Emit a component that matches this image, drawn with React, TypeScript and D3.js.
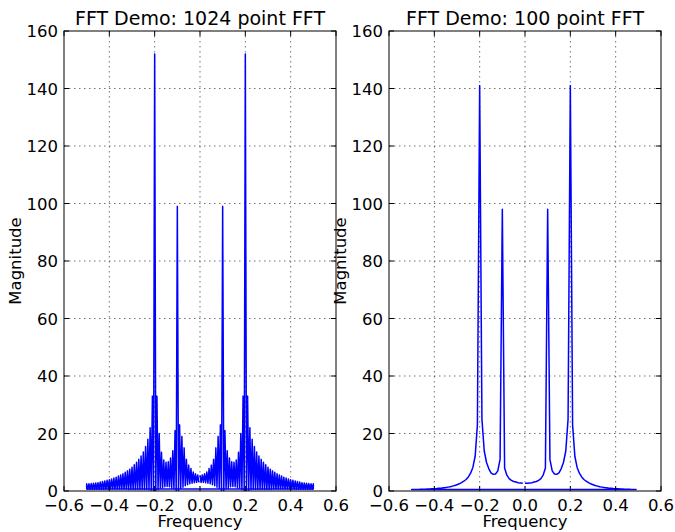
import React from "react";
import * as d3 from "d3";

// ---------- data ----------
const xTicks = [-0.6, -0.4, -0.2, 0.0, 0.2, 0.4, 0.6];
const yTicks = [0, 20, 40, 60, 80, 100, 120, 140, 160];

// 1024-point FFT: sidelobe peak magnitudes on a 0.01 grid from -0.5 to 0.5
const fft1024Peaks = [
  2.5, 2.5, 2.6, 2.7, 2.8, 2.9, 3.1, 3.3, 3.5, 3.7, 3.9, 4.2, 4.5, 4.8, 5.2, 5.6, 6.0, 6.5, 7.0, 7.6,
  8.3, 9.1, 10.0, 11.0, 12.2, 13.6, 15.5, 18, 22, 33, 152, 33, 20, 13.5, 10.8, 10, 10.2, 11.5, 14, 21,
  99, 23, 19, 15, 11, 9, 7.8, 6.6, 6.0, 5.6,
  5.5,
  5.6, 6.0, 6.6, 7.8, 9, 11, 15, 19, 23, 99, 21, 14, 11.5, 10.2, 10, 10.8, 13.5, 20, 33, 152,
  33, 22, 18, 15.5, 13.6, 12.2, 11.0, 10.0, 9.1, 8.3, 7.6, 7.0, 6.5, 6.0, 5.6, 5.2, 4.8, 4.5, 4.2,
  3.9, 3.7, 3.5, 3.3, 3.1, 2.9, 2.8, 2.7, 2.6, 2.5, 2.5,
];
// troughs: edge at -0.5, the 100 dips between neighbouring peaks, edge at +0.5
const fft1024Dips = [
  0.7,
  0.6, 0.6, 0.6, 0.6, 0.6, 0.6, 0.6, 0.6, 0.6, 0.6, 0.6, 0.6, 0.6, 0.6, 0.6, 0.6, 0.6, 0.6,
  0.55, 0.55, 0.55, 0.55, 0.5, 0.5, 0.5, 0.5, 0.5, 0.4, 0.3, 0.2, 0.2, 0.4, 0.8, 1.2, 1.5, 1.6,
  1.5, 1.1, 0.6, 0.2, 0.2, 0.8, 1.3, 1.8, 2.2, 2.5, 2.7, 2.9, 3.0, 3.0,
  3.0, 3.0, 2.9, 2.7, 2.5, 2.2, 1.8, 1.3, 0.8, 0.2, 0.2, 0.6, 1.1, 1.5, 1.6, 1.5, 1.2, 0.8, 0.4,
  0.2, 0.2, 0.3, 0.4, 0.5, 0.5, 0.5, 0.5, 0.5, 0.55, 0.55, 0.55, 0.55,
  0.6, 0.6, 0.6, 0.6, 0.6, 0.6, 0.6, 0.6, 0.6, 0.6, 0.6, 0.6, 0.6, 0.6, 0.6, 0.6, 0.6, 0.6,
  0.7,
];

// 100-point FFT: magnitudes at frequencies -0.5 .. 0.49 (step 0.01)
const fft100Mag = [
  0.54, 0.54, 0.55, 0.56, 0.58, 0.6, 0.63, 0.66, 0.7, 0.75, 0.8, 0.85, 0.92, 1.0, 1.1, 1.2, 1.35, 1.5, 1.7, 1.9,
  2.2, 2.5, 2.9, 3.4, 4.0, 4.9, 6.2, 8.2, 12, 23, 141, 25, 14, 10, 7.8, 6.3, 5.8, 5.9, 7.0, 11,
  98, 8, 5.5, 4.3, 3.7, 3.3, 3.1, 2.9, 2.8, 2.7,
  2.7,
  2.7, 2.8, 2.9, 3.1, 3.3, 3.7, 4.3, 5.5, 8, 98, 11, 7.0, 5.9, 5.8, 6.3, 7.8, 10, 14, 25, 141,
  23, 12, 8.2, 6.2, 4.9, 4.0, 3.4, 2.9, 2.5, 2.2, 1.9, 1.7, 1.5, 1.35, 1.2, 1.1, 1.0, 0.92, 0.85, 0.8,
  0.75, 0.7, 0.66, 0.63, 0.6, 0.58, 0.56, 0.55, 0.54,
];

const titles = ["FFT Demo: 1024 point FFT", "FFT Demo: 100 point FFT"];

// ---------- layout ----------
const W = 675;
const H = 532;
const TOP = 31;
const BOTTOM = 491;
const PANELS = [
  { left: 64, right: 336 },
  { left: 389, right: 661 },
];
const FONT = "DejaVu Sans, sans-serif";
const BLUE = "#0000ff";
const LABEL_SIZE = 16.5;
const TITLE_SIZE = 19;

type Pt = [number, number];

function build1024(): Pt[] {
  const step = 0.01;
  const freqs = fft1024Peaks.map((_, i) => -0.5 + i * step);
  const pts: Pt[] = [];
  pts.push([freqs[0], fft1024Dips[0]]);
  freqs.forEach((f, i) => {
    if (i > 0) pts.push([f - step / 2, fft1024Dips[i]]);
    pts.push([f, fft1024Peaks[i]]);
  });
  pts.push([freqs[freqs.length - 1], fft1024Dips[fft1024Dips.length - 1]]);
  // FFT order: non-negative frequencies first, then the negative half
  const pos = pts.filter((p) => p[0] >= -1e-9);
  const neg = pts.filter((p) => p[0] < -1e-9);
  return [...pos, ...neg];
}

function build100(): Pt[] {
  const pts: Pt[] = fft100Mag.map((m, i) => [-0.5 + i * 0.01, m]);
  const pos = pts.filter((p) => p[0] >= -1e-9);
  const neg = pts.filter((p) => p[0] < -1e-9);
  return [...pos, ...neg];
}

const fmtX = (v: number) => {
  const s = v.toFixed(1);
  return v < 0 ? "\u2212" + s.slice(1) : s;
};

function Panel({ idx, data }: { idx: number; data: Pt[] }) {
  const { left, right } = PANELS[idx];
  const x = d3.scaleLinear().domain([-0.6, 0.6]).range([left, right]);
  const y = d3.scaleLinear().domain([0, 160]).range([BOTTOM, TOP]);
  const line = d3
    .line<Pt>()
    .x((d) => x(d[0]))
    .y((d) => y(d[1]));
  const cx = (left + right) / 2;
  const tickLen = 5;
  return (
    <g>
      {/* grid */}
      {xTicks.slice(1, -1).map((t) => (
        <line key={"gx" + t} x1={x(t)} x2={x(t)} y1={TOP} y2={BOTTOM} stroke="#000" strokeOpacity={0.55} strokeWidth={1} strokeDasharray="1.5 3.5" />
      ))}
      {yTicks.slice(1, -1).map((t) => (
        <line key={"gy" + t} x1={left} x2={right} y1={y(t)} y2={y(t)} stroke="#000" strokeOpacity={0.55} strokeWidth={1} strokeDasharray="1.5 3.5" />
      ))}
      {/* data */}
      <path d={line(data) || ""} fill="none" stroke={BLUE} strokeWidth={1.5} strokeLinejoin="round" />
      {/* ticks */}
      {xTicks.map((t) => (
        <g key={"tx" + t}>
          <line x1={x(t)} x2={x(t)} y1={BOTTOM} y2={BOTTOM - tickLen} stroke="#000" />
          <line x1={x(t)} x2={x(t)} y1={TOP} y2={TOP + tickLen} stroke="#000" />
          <text x={x(t)} y={511} textAnchor="middle" fontSize={LABEL_SIZE} fontFamily={FONT} fill="#000">
            {fmtX(t)}
          </text>
        </g>
      ))}
      {yTicks.map((t) => (
        <g key={"ty" + t}>
          <line x1={left} x2={left + tickLen} y1={y(t)} y2={y(t)} stroke="#000" />
          <line x1={right} x2={right - tickLen} y1={y(t)} y2={y(t)} stroke="#000" />
          <text x={left - 6} y={y(t) + 6} textAnchor="end" fontSize={LABEL_SIZE} fontFamily={FONT} fill="#000">
            {t}
          </text>
        </g>
      ))}
      {/* frame */}
      <rect x={left} y={TOP} width={right - left} height={BOTTOM - TOP} fill="none" stroke="#000" strokeWidth={1} />
      {/* labels */}
      <text x={cx} y={24.5} textAnchor="middle" fontSize={TITLE_SIZE} fontFamily={FONT} fill="#000">
        {titles[idx]}
      </text>
      <text x={cx} y={527} textAnchor="middle" fontSize={LABEL_SIZE} fontFamily={FONT} fill="#000">
        Frequency
      </text>
      <text
        transform={`translate(${left - 43},${(TOP + BOTTOM) / 2}) rotate(-90)`}
        textAnchor="middle"
        fontSize={LABEL_SIZE}
        fontFamily={FONT}
        fill="#000"
      >
        Magnitude
      </text>
    </g>
  );
}

export default function App() {
  const d1 = build1024();
  const d2 = build100();
  return (
    <svg width={W} height={H} style={{ position: "absolute", left: 0, top: 0, background: "#fff" }}>
      <rect x={0} y={0} width={W} height={H} fill="#fff" />
      <Panel idx={0} data={d1} />
      <Panel idx={1} data={d2} />
    </svg>
  );
}
